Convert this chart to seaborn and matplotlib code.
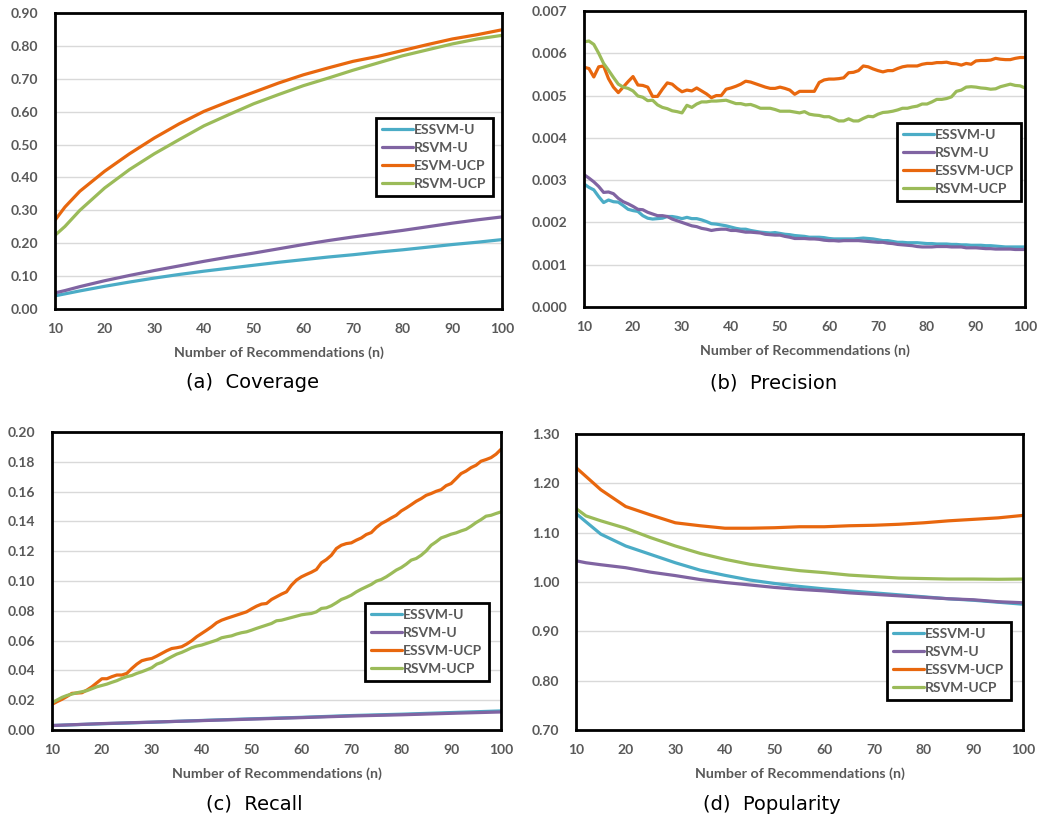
import numpy as np
import pandas as pd
import matplotlib
matplotlib.use("Agg")
import matplotlib.pyplot as plt
import seaborn as sns
from matplotlib.ticker import FormatStrFormatter, MultipleLocator
from matplotlib.lines import Line2D

# ---------------- data ----------------
series_names = ["ESSVM-U", "RSVM-U", "ESSVM-UCP", "RSVM-UCP"]
coverage_labels = ["ESSVM-U", "RSVM-U", "ESVM-UCP", "RSVM-UCP"]
series_colors = ["#4BACC6", "#8064A2", "#E8670E", "#9BBB59"]

# Coverage
coverage_n = [10, 12, 15, 20, 25, 30, 35, 40, 45, 50, 55, 60, 65, 70, 75, 80, 85, 90, 95, 100]
coverage_essvm_u = [0.040, 0.046, 0.055, 0.069, 0.082, 0.094, 0.105, 0.115, 0.124, 0.133,
                    0.142, 0.150, 0.158, 0.165, 0.173, 0.180, 0.188, 0.196, 0.203, 0.211]
coverage_rsvm_u = [0.049, 0.056, 0.068, 0.086, 0.102, 0.117, 0.131, 0.145, 0.158, 0.170,
                   0.183, 0.196, 0.208, 0.219, 0.229, 0.239, 0.250, 0.261, 0.271, 0.280]
coverage_essvm_ucp = [0.270, 0.310, 0.358, 0.419, 0.472, 0.520, 0.563, 0.601, 0.631, 0.659,
                      0.687, 0.712, 0.733, 0.753, 0.768, 0.786, 0.804, 0.821, 0.834, 0.849]
coverage_rsvm_ucp = [0.224, 0.251, 0.300, 0.368, 0.424, 0.472, 0.515, 0.557, 0.591, 0.624,
                     0.652, 0.679, 0.702, 0.726, 0.748, 0.770, 0.788, 0.806, 0.821, 0.832]

# Precision
precision_n = list(range(10, 101))
precision_essvm_u = [
    0.00291, 0.00283, 0.00277, 0.00261, 0.00247, 0.00253, 0.00249, 0.00248, 0.00240, 0.00231,
    0.00228, 0.00226, 0.00216, 0.00210, 0.00208, 0.00209, 0.00210, 0.00214, 0.00214, 0.00212,
    0.00209, 0.00212, 0.00209, 0.00209, 0.00206, 0.00202, 0.00197, 0.00196, 0.00194, 0.00192,
    0.00189, 0.00186, 0.00184, 0.00184, 0.00181, 0.00179, 0.00177, 0.00176, 0.00175, 0.00176,
    0.00174, 0.00172, 0.00171, 0.00169, 0.00168, 0.00167, 0.00165, 0.00165, 0.00165, 0.00164,
    0.00162, 0.00161, 0.00161, 0.00161, 0.00161, 0.00161, 0.00162, 0.00163, 0.00162, 0.00161,
    0.00159, 0.00157, 0.00157, 0.00155, 0.00153, 0.00153, 0.00152, 0.00152, 0.00152, 0.00151,
    0.00150, 0.00150, 0.00149, 0.00149, 0.00149, 0.00148, 0.00148, 0.00147, 0.00147, 0.00146,
    0.00146, 0.00146, 0.00145, 0.00145, 0.00144, 0.00143, 0.00142, 0.00142, 0.00142, 0.00142,
    0.00142]
precision_rsvm_u = [
    0.00313, 0.00305, 0.00296, 0.00285, 0.00271, 0.00272, 0.00268, 0.00257, 0.00249, 0.00244,
    0.00238, 0.00231, 0.00230, 0.00224, 0.00220, 0.00216, 0.00216, 0.00214, 0.00208, 0.00204,
    0.00200, 0.00196, 0.00192, 0.00190, 0.00186, 0.00184, 0.00181, 0.00183, 0.00184, 0.00184,
    0.00181, 0.00181, 0.00179, 0.00177, 0.00177, 0.00176, 0.00175, 0.00172, 0.00171, 0.00170,
    0.00170, 0.00167, 0.00165, 0.00162, 0.00162, 0.00162, 0.00161, 0.00161, 0.00160, 0.00158,
    0.00157, 0.00157, 0.00156, 0.00157, 0.00157, 0.00157, 0.00157, 0.00156, 0.00155, 0.00154,
    0.00153, 0.00153, 0.00151, 0.00150, 0.00148, 0.00147, 0.00146, 0.00145, 0.00143, 0.00142,
    0.00142, 0.00142, 0.00143, 0.00143, 0.00143, 0.00142, 0.00142, 0.00142, 0.00140, 0.00140,
    0.00140, 0.00139, 0.00138, 0.00138, 0.00137, 0.00137, 0.00137, 0.00137, 0.00136, 0.00136,
    0.00136]
precision_essvm_ucp = [
    0.00567, 0.00564, 0.00544, 0.00568, 0.00570, 0.00540, 0.00520, 0.00507, 0.00520, 0.00533,
    0.00545, 0.00525, 0.00524, 0.00520, 0.00498, 0.00498, 0.00515, 0.00530, 0.00527, 0.00517,
    0.00509, 0.00513, 0.00511, 0.00518, 0.00511, 0.00504, 0.00495, 0.00500, 0.00500, 0.00515,
    0.00518, 0.00522, 0.00527, 0.00534, 0.00532, 0.00528, 0.00524, 0.00520, 0.00517, 0.00517,
    0.00520, 0.00517, 0.00513, 0.00503, 0.00510, 0.00510, 0.00510, 0.00510, 0.00531, 0.00537,
    0.00539, 0.00539, 0.00540, 0.00542, 0.00554, 0.00555, 0.00559, 0.00570, 0.00568, 0.00563,
    0.00559, 0.00556, 0.00559, 0.00559, 0.00564, 0.00568, 0.00570, 0.00570, 0.00570, 0.00574,
    0.00576, 0.00576, 0.00578, 0.00578, 0.00579, 0.00576, 0.00575, 0.00572, 0.00576, 0.00574,
    0.00582, 0.00583, 0.00583, 0.00584, 0.00588, 0.00586, 0.00585, 0.00585, 0.00588, 0.00590,
    0.00590]
precision_rsvm_ucp = [
    0.00627, 0.00629, 0.00621, 0.00600, 0.00576, 0.00560, 0.00543, 0.00527, 0.00520, 0.00517,
    0.00511, 0.00499, 0.00496, 0.00488, 0.00489, 0.00478, 0.00472, 0.00469, 0.00464, 0.00462,
    0.00459, 0.00477, 0.00472, 0.00480, 0.00485, 0.00485, 0.00487, 0.00487, 0.00488, 0.00489,
    0.00485, 0.00481, 0.00481, 0.00478, 0.00479, 0.00475, 0.00470, 0.00470, 0.00470, 0.00467,
    0.00463, 0.00463, 0.00463, 0.00461, 0.00459, 0.00462, 0.00456, 0.00454, 0.00453, 0.00450,
    0.00450, 0.00445, 0.00440, 0.00440, 0.00445, 0.00440, 0.00440, 0.00446, 0.00451, 0.00450,
    0.00456, 0.00460, 0.00461, 0.00463, 0.00466, 0.00470, 0.00470, 0.00473, 0.00475, 0.00480,
    0.00480, 0.00485, 0.00491, 0.00491, 0.00493, 0.00497, 0.00510, 0.00513, 0.00520, 0.00521,
    0.00520, 0.00518, 0.00517, 0.00515, 0.00516, 0.00521, 0.00524, 0.00527, 0.00524, 0.00523,
    0.00518]

# Recall
recall_n = list(range(10, 101))
recall_u_n = [10, 20, 30, 40, 50, 60, 70, 80, 90, 100]
recall_essvm_u = [0.0030, 0.0042, 0.0052, 0.0064, 0.0075, 0.0085, 0.0097, 0.0106, 0.0117, 0.0128]
recall_rsvm_u = [0.0030, 0.0043, 0.0053, 0.0063, 0.0073, 0.0083, 0.0094, 0.0102, 0.0112, 0.0121]
recall_essvm_ucp = [
    0.0172, 0.0190, 0.0206, 0.0225, 0.0246, 0.0248, 0.0250, 0.0268, 0.0290, 0.0317,
    0.0344, 0.0344, 0.0358, 0.0369, 0.0369, 0.0380, 0.0413, 0.0442, 0.0465, 0.0474,
    0.0480, 0.0496, 0.0514, 0.0532, 0.0547, 0.0552, 0.0559, 0.0577, 0.0599, 0.0626,
    0.0648, 0.0670, 0.0693, 0.0720, 0.0737, 0.0749, 0.0760, 0.0771, 0.0782, 0.0793,
    0.0813, 0.0831, 0.0845, 0.0849, 0.0876, 0.0894, 0.0912, 0.0927, 0.0972, 0.1006,
    0.1028, 0.1044, 0.1059, 0.1077, 0.1122, 0.1144, 0.1173, 0.1218, 0.1240, 0.1251,
    0.1256, 0.1274, 0.1289, 0.1312, 0.1325, 0.1359, 0.1385, 0.1403, 0.1423, 0.1441,
    0.1470, 0.1490, 0.1512, 0.1535, 0.1553, 0.1575, 0.1587, 0.1602, 0.1613, 0.1640,
    0.1654, 0.1687, 0.1721, 0.1738, 0.1761, 0.1777, 0.1804, 0.1815, 0.1828, 0.1851,
    0.1884]
recall_rsvm_ucp = [
    0.0183, 0.0201, 0.0219, 0.0232, 0.0241, 0.0250, 0.0257, 0.0264, 0.0277, 0.0290,
    0.0299, 0.0308, 0.0320, 0.0331, 0.0346, 0.0358, 0.0366, 0.0380, 0.0391, 0.0404,
    0.0418, 0.0442, 0.0454, 0.0474, 0.0492, 0.0509, 0.0521, 0.0536, 0.0552, 0.0563,
    0.0570, 0.0581, 0.0592, 0.0603, 0.0619, 0.0626, 0.0632, 0.0644, 0.0653, 0.0659,
    0.0670, 0.0682, 0.0693, 0.0704, 0.0715, 0.0733, 0.0737, 0.0746, 0.0755, 0.0764,
    0.0773, 0.0778, 0.0782, 0.0793, 0.0816, 0.0820, 0.0834, 0.0854, 0.0876, 0.0889,
    0.0905, 0.0927, 0.0945, 0.0961, 0.0977, 0.0999, 0.1010, 0.1028, 0.1050, 0.1073,
    0.1090, 0.1113, 0.1140, 0.1151, 0.1173, 0.1202, 0.1240, 0.1263, 0.1289, 0.1301,
    0.1314, 0.1323, 0.1336, 0.1347, 0.1368, 0.1392, 0.1412, 0.1435, 0.1441, 0.1453,
    0.1464]

# Popularity
popularity_n = [10, 12, 15, 20, 25, 30, 35, 40, 45, 50, 55, 60, 65, 70, 75, 80, 85, 90, 95, 100]
popularity_essvm_u = [1.139, 1.122, 1.097, 1.073, 1.056, 1.039, 1.024, 1.0135, 1.004, 0.997,
                      0.991, 0.986, 0.982, 0.978, 0.974, 0.970, 0.966, 0.963, 0.959, 0.955]
popularity_rsvm_u = [1.043, 1.039, 1.035, 1.029, 1.020, 1.013, 1.005, 0.999, 0.994, 0.989,
                     0.985, 0.982, 0.978, 0.975, 0.972, 0.969, 0.966, 0.964, 0.960, 0.958]
popularity_essvm_ucp = [1.232, 1.214, 1.187, 1.153, 1.136, 1.120, 1.114, 1.109, 1.109, 1.110,
                        1.112, 1.112, 1.114, 1.115, 1.117, 1.120, 1.124, 1.127, 1.130, 1.135]
popularity_rsvm_ucp = [1.149, 1.134, 1.124, 1.109, 1.090, 1.073, 1.058, 1.046, 1.036, 1.029,
                       1.023, 1.019, 1.014, 1.011, 1.008, 1.007, 1.006, 1.006, 1.0055, 1.006]

# ---------------- style ----------------
sns.set_theme(style="white")
plt.rcParams["font.family"] = ["Lato", "DejaVu Sans"]
TICK_COLOR = "#595959"


def long_frame(pairs):
    frames = []
    for name, xs, ys in pairs:
        frames.append(pd.DataFrame({"n": xs, "value": ys, "method": name}))
    return pd.concat(frames, ignore_index=True)


def draw_panel(ax, pairs, ylim, ystep, fmt, labels, legend_anchor):
    df = long_frame(pairs)
    sns.lineplot(data=df, x="n", y="value", hue="method", hue_order=series_names,
                 palette=series_colors, linewidth=2.3, ax=ax, legend=False)
    ax.set_xlim(10, 100)
    ax.set_ylim(*ylim)
    ax.xaxis.set_major_locator(MultipleLocator(10))
    ax.yaxis.set_major_locator(MultipleLocator(ystep))
    ax.yaxis.set_major_formatter(FormatStrFormatter(fmt))
    ax.yaxis.grid(True, color="#D9D9D9", linewidth=1.0)
    ax.xaxis.grid(False)
    ax.set_axisbelow(True)
    for sp in ax.spines.values():
        sp.set_visible(True)
        sp.set_color("black")
        sp.set_linewidth(2.0)
    ax.tick_params(axis="both", length=0, labelsize=10, labelcolor=TICK_COLOR)
    ax.tick_params(axis="x", pad=10)
    ax.tick_params(axis="y", pad=12)
    for lbl in ax.get_xticklabels() + ax.get_yticklabels():
        lbl.set_fontweight("bold")
    ax.set_xlabel("Number of Recommendations (n)", fontsize=10.3, fontweight="bold",
                  color=TICK_COLOR, labelpad=8)
    ax.set_ylabel("")
    handles = [Line2D([0], [0], color=c, lw=2.3) for c in series_colors]
    leg = ax.legend(handles, labels, loc="upper left", bbox_to_anchor=legend_anchor,
                    borderaxespad=0, frameon=True, fancybox=False, framealpha=1,
                    edgecolor="black", handlelength=2.2, handletextpad=0.1,
                    labelspacing=0.42, borderpad=0.45,
                    prop={"family": ["Lato", "DejaVu Sans"], "weight": "bold", "size": 10})
    leg.get_frame().set_linewidth(2.0)
    for t in leg.get_texts():
        t.set_color(TICK_COLOR)


fig = plt.figure(figsize=(10.37, 8.25), dpi=100)
W, H = 1037, 825


def add_axes_px(left, top, right, bottom):
    return fig.add_axes([left / W, 1 - bottom / H, (right - left) / W, (bottom - top) / H])


ax_a = add_axes_px(55, 13, 502, 309)
ax_b = add_axes_px(584, 11, 1025, 307)
ax_c = add_axes_px(52, 432, 501, 730)
ax_d = add_axes_px(576, 434, 1023, 730)

draw_panel(ax_a,
           [("ESSVM-U", coverage_n, coverage_essvm_u),
            ("RSVM-U", coverage_n, coverage_rsvm_u),
            ("ESSVM-UCP", coverage_n, coverage_essvm_ucp),
            ("RSVM-UCP", coverage_n, coverage_rsvm_ucp)],
           (0, 0.90), 0.10, "%.2f", coverage_labels, (0.718, 0.645))

draw_panel(ax_b,
           [("ESSVM-U", precision_n, precision_essvm_u),
            ("RSVM-U", precision_n, precision_rsvm_u),
            ("ESSVM-UCP", precision_n, precision_essvm_ucp),
            ("RSVM-UCP", precision_n, precision_rsvm_ucp)],
           (0, 0.007), 0.001, "%.3f", series_names, (0.71, 0.622))

draw_panel(ax_c,
           [("ESSVM-U", recall_u_n, recall_essvm_u),
            ("RSVM-U", recall_u_n, recall_rsvm_u),
            ("ESSVM-UCP", recall_n, recall_essvm_ucp),
            ("RSVM-UCP", recall_n, recall_rsvm_ucp)],
           (0, 0.20), 0.02, "%.2f", series_names, (0.697, 0.426))

draw_panel(ax_d,
           [("ESSVM-U", popularity_n, popularity_essvm_u),
            ("RSVM-U", popularity_n, popularity_rsvm_u),
            ("ESSVM-UCP", popularity_n, popularity_essvm_ucp),
            ("RSVM-UCP", popularity_n, popularity_rsvm_ucp)],
           (0.70, 1.30), 0.10, "%.2f", series_names, (0.696, 0.365))

captions = [("(a)  Coverage", 252, 383), ("(b)  Precision", 774, 383),
            ("(c)  Recall", 254, 804), ("(d)  Popularity", 772, 805)]
for text, cx, cy in captions:
    fig.text(cx / W, 1 - cy / H, text, ha="center", va="center", fontsize=14,
             family=["DejaVu Sans"], color="black")

fig.savefig("out.png", dpi=100)
